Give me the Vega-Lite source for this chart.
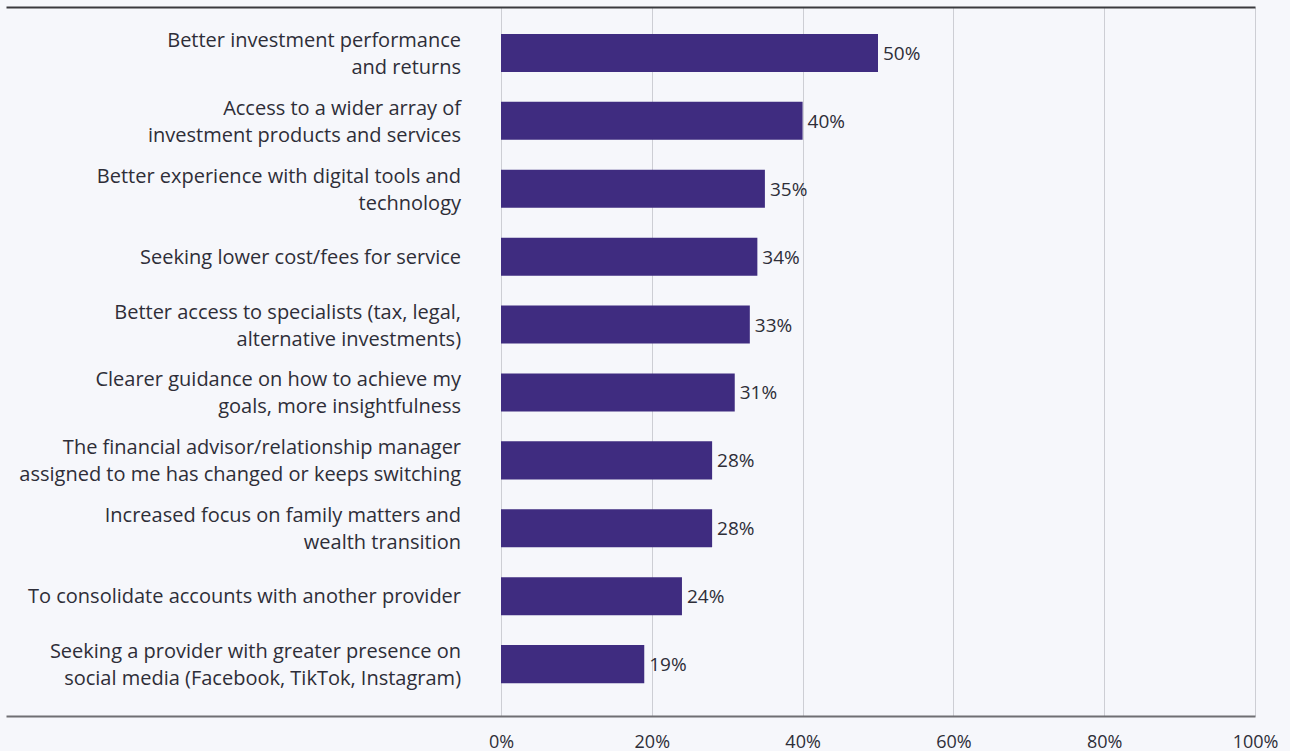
{
  "$schema": "https://vega.github.io/schema/vega-lite/v6.json",
  "autosize": "none",
  "width": 1249,
  "height": 709,
  "padding": {"left": 6, "top": 7, "right": 35, "bottom": 35},
  "background": "#f6f7fb",
  "config": {"view": {"stroke": null}, "font": "Open Sans"},
  "data": {"values": [
    {"reason": "Better investment performance\nand returns", "value": 0.50},
    {"reason": "Access to a wider array of\ninvestment products and services", "value": 0.40},
    {"reason": "Better experience with digital tools and\ntechnology", "value": 0.35},
    {"reason": "Seeking lower cost/fees for service", "value": 0.34},
    {"reason": "Better access to specialists (tax, legal,\nalternative investments)", "value": 0.33},
    {"reason": "Clearer guidance on how to achieve my\ngoals, more insightfulness", "value": 0.31},
    {"reason": "The financial advisor/relationship manager\nassigned to me has changed or keeps switching", "value": 0.28},
    {"reason": "Increased focus on family matters and\nwealth transition", "value": 0.28},
    {"reason": "To consolidate accounts with another provider", "value": 0.24},
    {"reason": "Seeking a provider with greater presence on\nsocial media (Facebook, TikTok, Instagram)", "value": 0.19}
  ]},
  "encoding": {
    "y": {"field": "reason", "type": "nominal", "sort": null, "axis": null,
          "scale": {"paddingInner": 0.44, "paddingOuter": 0.44, "align": 0.45}}
  },
  "layer": [
    {
      "mark": {"type": "bar", "color": "#3f2c80"},
      "encoding": {
        "x": {"field": "value", "type": "quantitative",
              "scale": {"domain": [-0.6565, 1], "nice": false, "zero": false},
              "axis": {"orient": "bottom", "values": [0, 0.2, 0.4, 0.6, 0.8, 1], "format": ".0%", "title": null,
                       "grid": true, "gridColor": "#cdced4", "gridWidth": 1,
                       "domainColor": "#6f6f73", "domainWidth": 2, "ticks": false, "labelFlush": false,
                       "labelFontSize": 18, "labelColor": "#2e2e38", "labelPadding": 17, "labelFont": "Open Sans"}}
      }
    },
    {
      "transform": [{"filter": "indexof(datum.reason, '\\n') >= 0"}],
      "mark": {"type": "text", "align": "right", "baseline": "middle", "fontSize": 20, "color": "#2e2e38", "lineBreak": "\n", "lineHeight": 27, "dy": -12},
      "encoding": {
        "x": {"datum": -0.053, "type": "quantitative",
              "axis": {"orient": "top", "labels": false, "ticks": false, "grid": false, "title": null,
                       "domainColor": "#3a3a3e", "domainWidth": 2}},
        "text": {"field": "reason"}
      }
    },
    {
      "transform": [{"filter": "indexof(datum.reason, '\\n') < 0"}],
      "mark": {"type": "text", "align": "right", "baseline": "middle", "fontSize": 20, "color": "#2e2e38", "dy": 1},
      "encoding": {
        "x": {"datum": -0.053, "type": "quantitative", "axis": null},
        "text": {"field": "reason"}
      }
    },
    {
      "mark": {"type": "text", "align": "left", "baseline": "middle", "fontSize": 19, "color": "#2e2e38", "dx": 5, "dy": 1},
      "encoding": {
        "x": {"field": "value", "type": "quantitative", "axis": null},
        "text": {"field": "value", "format": ".0%"}
      }
    }
  ],
  "resolve": {"axis": {"x": "independent"}}
}
